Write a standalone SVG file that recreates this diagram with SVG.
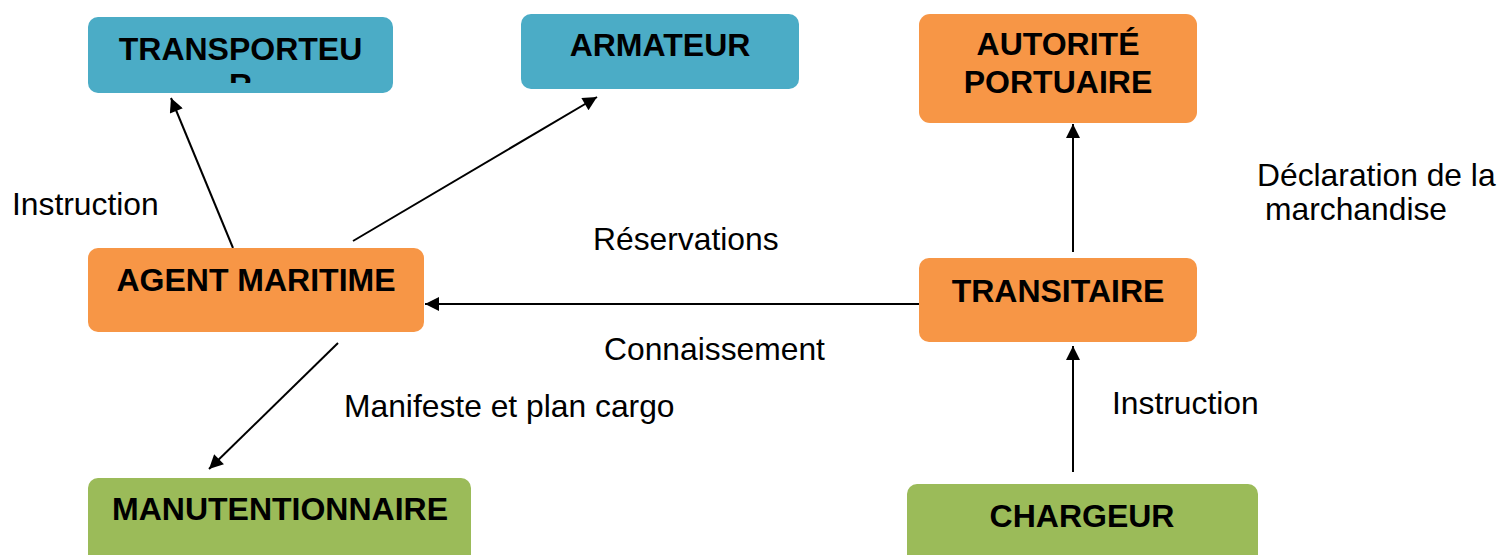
<svg xmlns="http://www.w3.org/2000/svg" width="1500" height="555" viewBox="0 0 1500 555">
<style>
.blue{fill:#4BACC6}
.orange{fill:#F79646}
.green{fill:#9BBB59}
.bt{font-family:"Liberation Sans",Arial,sans-serif;font-weight:bold;font-size:32px;fill:#000;text-anchor:middle}
.lt{font-family:"Liberation Sans",Arial,sans-serif;font-size:31.8px;fill:#000}
.conn{stroke:#000;stroke-width:2;fill:none;marker-end:url(#ah)}
</style>
<defs>
<marker id="ah" viewBox="0 0 10 10" refX="10" refY="5" markerWidth="20" markerHeight="14" markerUnits="userSpaceOnUse" orient="auto">
<path d="M0,0 L10,5 L0,10 Z" fill="#000"/>
</marker>
<clipPath id="clipT"><rect x="88" y="17" width="305" height="66"/></clipPath>
</defs>
<rect width="1500" height="555" fill="#fff"/>
<g id="connectors">
<line class="conn" x1="233" y1="248" x2="171" y2="98"/>
<line class="conn" x1="353" y1="241" x2="597" y2="97"/>
<line class="conn" x1="919" y1="304" x2="425" y2="304"/>
<line class="conn" x1="338" y1="343" x2="209" y2="469"/>
<line class="conn" x1="1073" y1="252" x2="1073" y2="124"/>
<line class="conn" x1="1073" y1="472" x2="1073" y2="346"/>
</g>
<g id="transporteur">
<rect class="blue" x="88" y="17" width="305" height="76" rx="10"/>
<g clip-path="url(#clipT)">
<text class="bt" x="240.5" y="60">TRANSPORTEU</text>
<text class="bt" x="240.5" y="96">R</text>
</g>
</g>
<g id="armateur">
<rect class="blue" x="521" y="14" width="278" height="75" rx="10"/>
<text class="bt" x="660" y="56">ARMATEUR</text>
</g>
<g id="autorite">
<rect class="orange" x="919" y="14" width="278" height="109" rx="11"/>
<text class="bt" x="1058" y="55">AUTORITÉ</text>
<text class="bt" x="1058" y="93">PORTUAIRE</text>
</g>
<g id="agent">
<rect class="orange" x="88" y="248" width="336" height="84" rx="10"/>
<text class="bt" x="256" y="291">AGENT MARITIME</text>
</g>
<g id="transitaire">
<rect class="orange" x="919" y="258" width="278" height="84" rx="10"/>
<text class="bt" x="1058" y="302">TRANSITAIRE</text>
</g>
<g id="manutentionnaire">
<rect class="green" x="88" y="478" width="383" height="90" rx="10"/>
<text class="bt" x="280" y="520">MANUTENTIONNAIRE</text>
</g>
<g id="chargeur">
<rect class="green" x="907" y="484" width="351" height="90" rx="10"/>
<text class="bt" x="1082" y="527">CHARGEUR</text>
</g>
<g id="labels">
<text class="lt" x="12" y="215">Instruction</text>
<text class="lt" x="593" y="250">Réservations</text>
<text class="lt" x="604" y="360">Connaissement</text>
<text class="lt" x="344" y="417">Manifeste et plan cargo</text>
<text class="lt" x="1112" y="414">Instruction</text>
<text class="lt" x="1257" y="186">Déclaration de la</text>
<text class="lt" x="1265" y="220">marchandise</text>
</g>
</svg>
